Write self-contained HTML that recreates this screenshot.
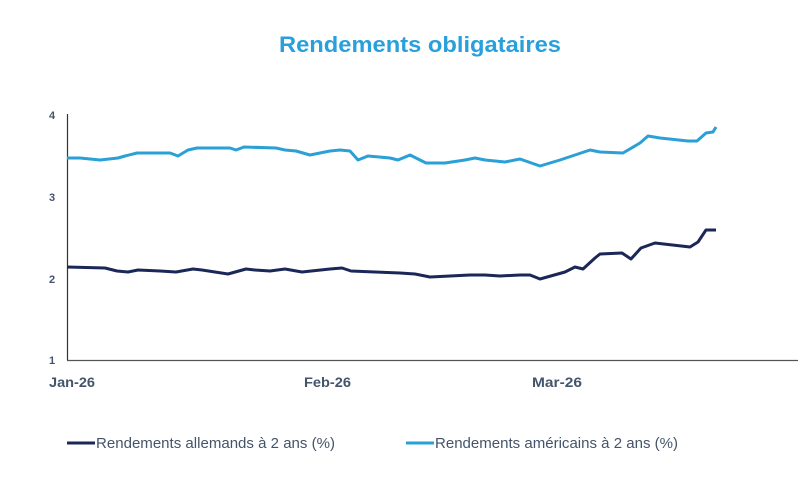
<!DOCTYPE html>
<html><head><meta charset="utf-8"><style>
body{margin:0;background:#fff;}
svg{display:block;font-family:"Liberation Sans",sans-serif;}
</style></head><body>
<svg width="800" height="500" viewBox="0 0 800 500" xmlns="http://www.w3.org/2000/svg">
<rect width="800" height="500" fill="#fff"/>
<text x="420" y="52" text-anchor="middle" font-size="22" font-weight="bold" fill="#29a0dc" textLength="282" lengthAdjust="spacingAndGlyphs">Rendements obligataires</text>
<g font-size="11" font-weight="bold" fill="#44546a" text-anchor="middle">
<text x="52" y="119">4</text><text x="52" y="201">3</text><text x="52" y="283">2</text><text x="52" y="364">1</text>
</g>
<g font-size="14" font-weight="bold" fill="#44546a">
<text x="49" y="387" textLength="46" lengthAdjust="spacingAndGlyphs">Jan-26</text>
<text x="304" y="387" textLength="47" lengthAdjust="spacingAndGlyphs">Feb-26</text>
<text x="532" y="387" textLength="50" lengthAdjust="spacingAndGlyphs">Mar-26</text>
</g>
<line x1="67.5" y1="114" x2="67.5" y2="360" stroke="#333" stroke-width="1.2"/>
<line x1="67" y1="360.5" x2="798" y2="360.5" stroke="#555" stroke-width="1.2"/>
<polyline fill="none" stroke="#2aa0d6" stroke-width="3" stroke-linejoin="round" points="67,158 80,158 100,160 118,158 125,156 137,153 170,153 178,156 188,150 197,148 230,148 236,150 244,147 276,148 285,150 296,151 310,155 330,151 340,150 350,151 358,160 368,156 390,158 398,160 410,155 426,163 445,163 465,160 475,158 485,160 505,162 520,159 540,166 560,160 590,150 600,152 623,153 640,143 648,136 660,138 688,141 697,141 706,133 713,132 716,127"/>
<polyline fill="none" stroke="#1b2757" stroke-width="3" stroke-linejoin="round" points="67,267 105,268 117,271 128,272 138,270 160,271 176,272 193,269 202,270 228,274 246,269 255,270 270,271 285,269 302,272 330,269 342,268 351,271 375,272 400,273 415,274 430,277 450,276 470,275 485,275 500,276 520,275 530,275 540,279 565,272 575,267 583,269 595,258 600,254 622,253 631,259 641,248 655,243 690,247 698,242 706,230 716,230"/>
<line x1="67" y1="443" x2="95" y2="443" stroke="#1b2757" stroke-width="3"/>
<text x="96" y="448" font-size="15" fill="#44546a" textLength="239" lengthAdjust="spacingAndGlyphs">Rendements allemands à 2 ans (%)</text>
<line x1="406" y1="443" x2="434" y2="443" stroke="#2aa0d6" stroke-width="3"/>
<text x="435" y="448" font-size="15" fill="#44546a" textLength="243" lengthAdjust="spacingAndGlyphs">Rendements américains à 2 ans (%)</text>
</svg>
</body></html>
